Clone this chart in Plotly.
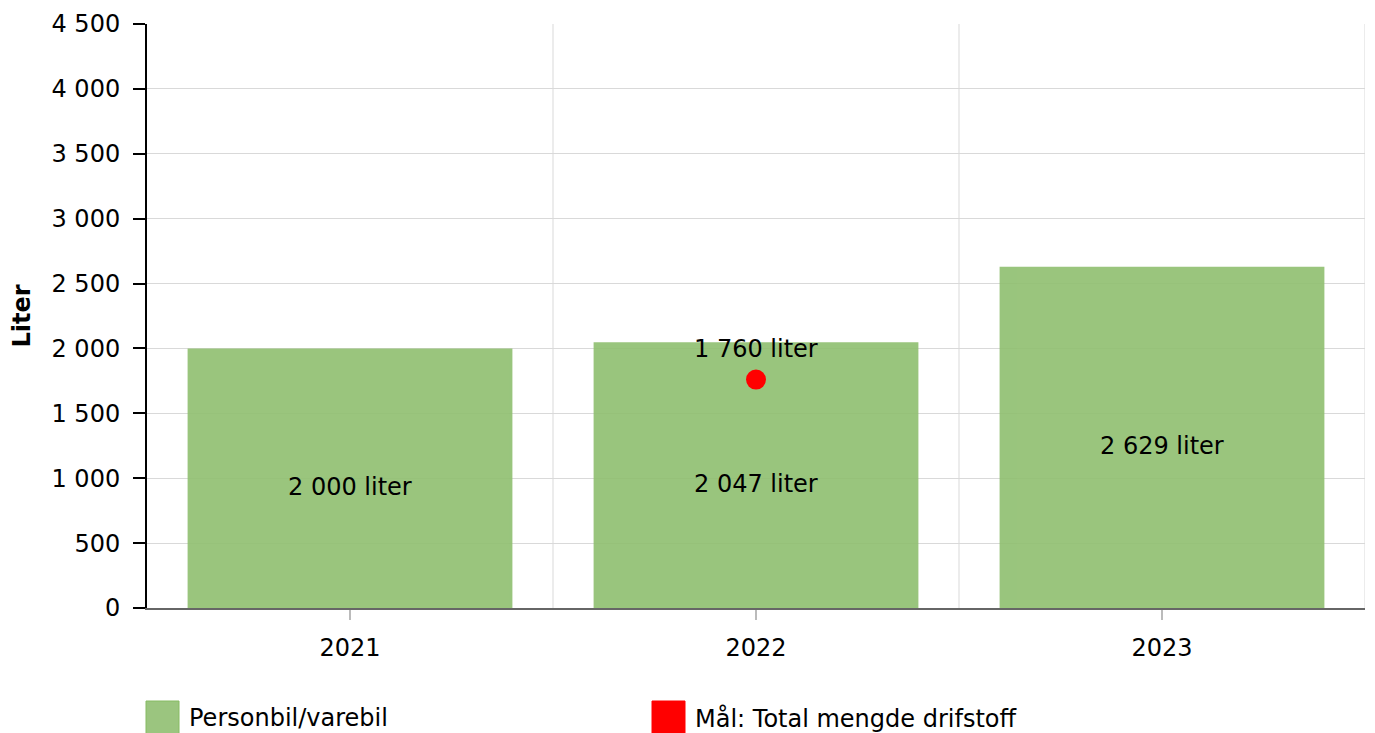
import plotly.graph_objects as go

categories = ["2021", "2022", "2023"]
bar_values = [2000, 2047, 2629]
bar_name = "Personbil/varebil"
target_categories = ["2022"]
target_values = [1760]
target_name = "Mål: Total mengde drifstoff"
y_ticks = [0, 500, 1000, 1500, 2000, 2500, 3000, 3500, 4000, 4500]

FONT = "DejaVu Sans, Verdana, sans-serif"
FS = 24

# page body has an 8px offset; plot area target: x 147..1365, y 24..608
OFF = 8
PLOT_W = 1365 - 147
PLOT_H = 608 - 24

def fmt(v):
    return f"{v:,}".replace(",", " ") + " liter"

fig = go.Figure()
fig.add_trace(go.Bar(
    x=categories, y=bar_values, name=bar_name,
    marker=dict(color="#8fbf6f", line=dict(width=0)), opacity=0.9,
    width=0.8, showlegend=False, hoverinfo="skip",
))
fig.add_trace(go.Scatter(
    x=target_categories, y=target_values, name=target_name,
    mode="markers", marker=dict(color="#ff0000", size=20),
    showlegend=False, hoverinfo="skip",
))

annotations = []
for c, v in zip(categories, bar_values):
    annotations.append(dict(x=categories.index(c), y=v / 2, xref="x", yref="y", text=fmt(v),
                            showarrow=False, yshift=-9,
                            font=dict(family=FONT, size=FS, color="black")))
for c, v in zip(target_categories, target_values):
    annotations.append(dict(x=categories.index(c), y=v, xref="x", yref="y", text=fmt(v),
                            showarrow=False, yshift=31,
                            font=dict(family=FONT, size=FS, color="black")))

shapes = []
for i in range(len(categories)):
    shapes.append(dict(type="line", xref="x", yref="paper", x0=i + 0.5, x1=i + 0.5,
                       y0=0, y1=1, line=dict(color="#d9d9d9", width=1), layer="below"))

legend_items = [(bar_name, "#9bc57f", "#86bb63", 146), (target_name, "#ff0000", "#ff0000", 652)]
for name, fill, border, xpix in legend_items:
    x0 = (xpix - 147) / PLOT_W
    shapes.append(dict(type="rect", xref="paper", yref="paper",
                       x0=x0, x1=x0 + 33 / PLOT_W, y0=-93 / PLOT_H, y1=-126 / PLOT_H,
                       fillcolor=fill, line=dict(color=border, width=1)))
    annotations.append(dict(xref="paper", yref="paper", x=x0 + 41 / PLOT_W,
                            y=-110 / PLOT_H, text=name, showarrow=False,
                            xanchor="left", yanchor="middle",
                            font=dict(family=FONT, size=FS, color="black")))

fig.update_layout(
    width=1375, height=733,
    margin=dict(l=147 - OFF, r=1375 + OFF - 1365, t=24 - OFF, b=733 + OFF - 608, autoexpand=False),
    paper_bgcolor="white", plot_bgcolor="white",
    separators=", ",
    font=dict(family=FONT, size=FS, color="black"),
    shapes=shapes, annotations=annotations,
    showlegend=False,
    bargap=0.2,
)
fig.update_xaxes(
    type="category", categoryorder="array", categoryarray=categories,
    range=[-0.5, len(categories) - 0.5],
    showgrid=False, showline=True, linecolor="#666666", linewidth=2,
    ticks="outside", ticklen=10, tickcolor="#bbbbbb", tickwidth=2,
    ticklabelstandoff=7,
    tickfont=dict(family=FONT, size=FS, color="black"),
)
fig.update_yaxes(
    range=[0, 4500], tickvals=y_ticks, tickformat=",d",
    showgrid=True, gridcolor="#d9d9d9", gridwidth=1,
    showline=True, linecolor="black", linewidth=2,
    ticks="outside", ticklen=12, tickcolor="black", tickwidth=2,
    ticklabelstandoff=8, zeroline=False,
    tickfont=dict(family=FONT, size=FS, color="black"),
    title=dict(text="<b>Liter</b>", font=dict(family=FONT, size=FS, color="black"), standoff=20),
)

fig.write_html("out.html")
